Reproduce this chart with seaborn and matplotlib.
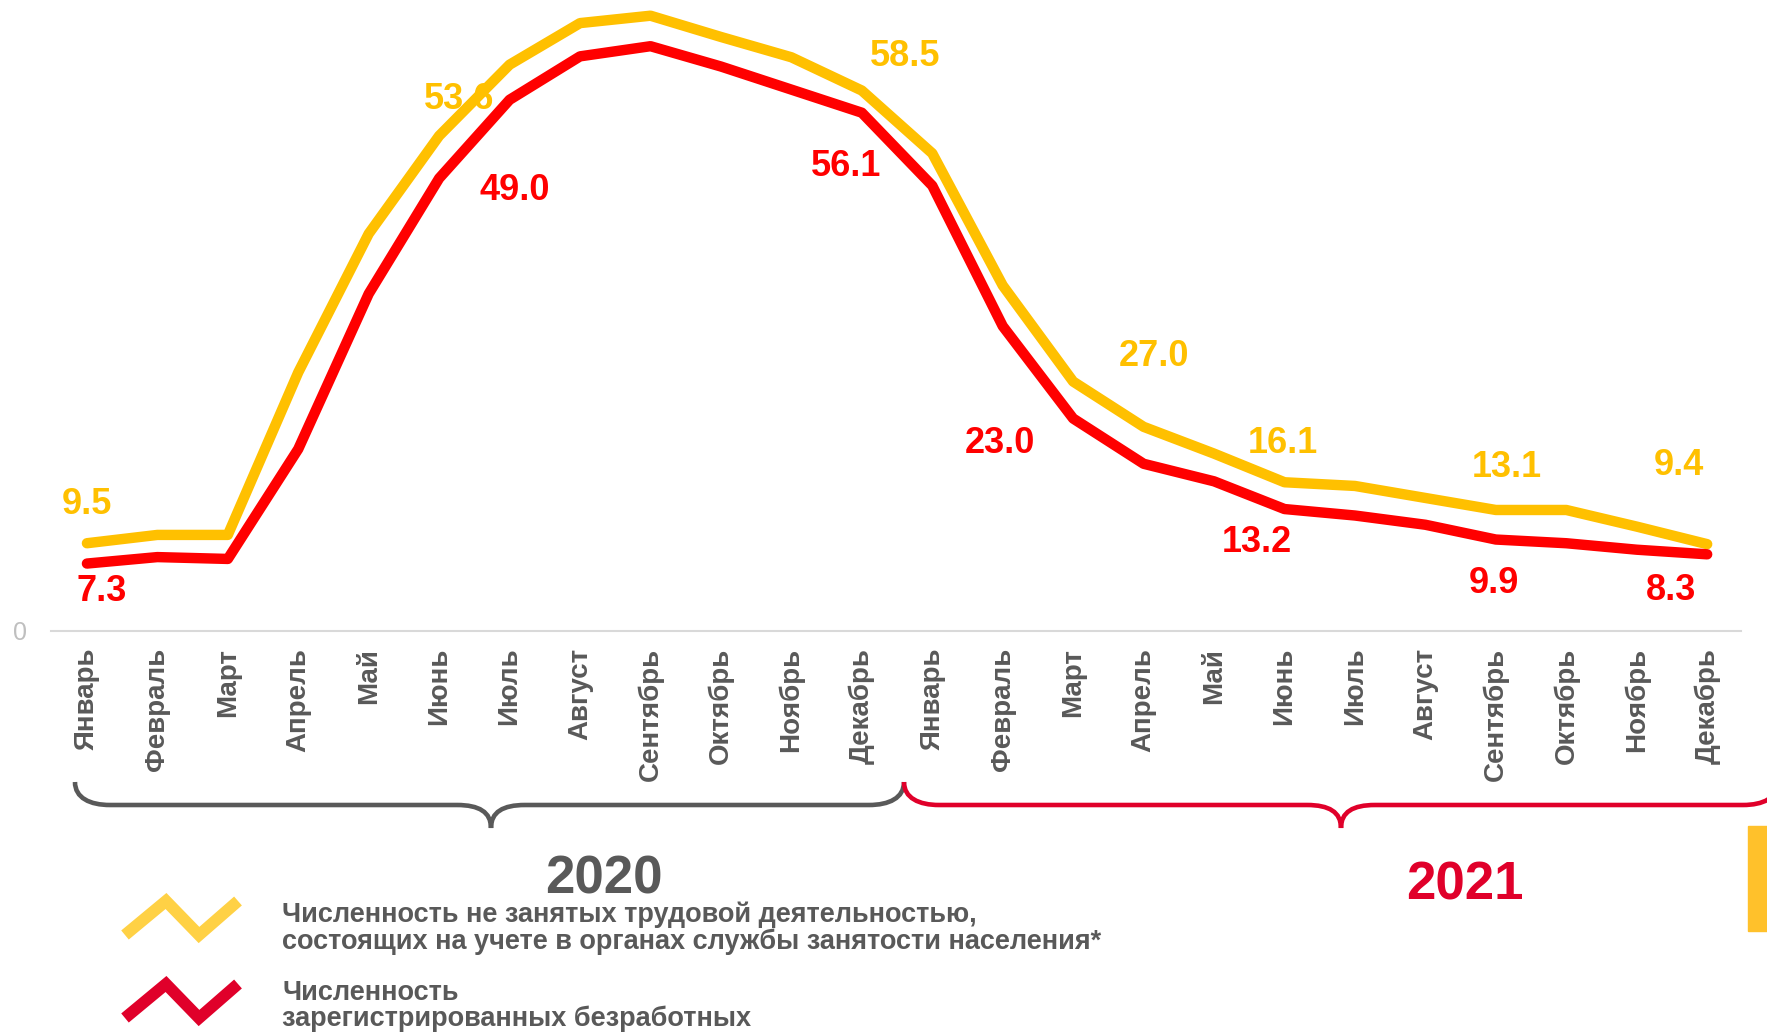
"""Численность безработных 2020-2021 — линейный график"""

import matplotlib
matplotlib.use("Agg")
import matplotlib.pyplot as plt
import matplotlib.patches as mpatches
from matplotlib.path import Path
import pandas as pd
import seaborn as sns

sns.set_style("white")
plt.rcParams["font.family"] = ["Liberation Sans", "DejaVu Sans"]

MONTHS = ["Январь", "Февраль", "Март", "Апрель", "Май", "Июнь",
          "Июль", "Август", "Сентябрь", "Октябрь", "Ноябрь", "Декабрь"]
YEARS = ["2020", "2021"]
SERIES = ["Численность не занятых трудовой деятельностью,\n"
          "состоящих на учете в органах службы занятости населения*",
          "Численность\nзарегистрированных безработных"]

# тыс. человек, январь 2020 - декабрь 2021
not_employed = [9.5, 10.4, 10.4, 28.0, 43.0, 53.6, 61.3, 65.8, 66.6, 64.3, 62.1, 58.5,
                51.7, 37.4, 27.0, 22.1, 19.2, 16.1, 15.7, 14.4, 13.1, 13.1, 11.3, 9.4]
unemployed = [7.3, 8.0, 7.8, 19.7, 36.5, 49.0, 57.5, 62.2, 63.3, 61.1, 58.6, 56.1,
              48.2, 33.0, 23.0, 18.1, 16.2, 13.2, 12.5, 11.5, 9.9, 9.5, 8.8, 8.3]
labelled = [0, 5, 11, 14, 17, 20, 23]

YELLOW, RED, GREY = "#FFC000", "#FF0000", "#595959"
CRIMSON = "#E0002A"

# label offsets in pixels (dx, dy), one per labelled point
yellow_offsets = [(0, 39), (20, 36), (43, 34), (81, 25), (-2, 39), (11, 42), (-28, 79)]
red_offsets = [(15, -28), (76, -12), (-16, -54), (-73, -25), (-28, -33), (-2, -44), (-36, -36)]

months_all = [m for _ in YEARS for m in MONTHS]
df = pd.DataFrame({
    "idx": list(range(len(not_employed))) * 2,
    "value": not_employed + unemployed,
    "series": ["a"] * len(not_employed) + ["b"] * len(unemployed),
})

fig = plt.figure(figsize=(17.67, 10.33), dpi=100)
ax = fig.add_axes([51 / 1767, 1 - 631 / 1033, 1690 / 1767, 631 / 1033])

sns.lineplot(data=df, x="idx", y="value", hue="series", palette=[YELLOW, RED],
             linewidth=7.5, legend=False, ax=ax, solid_capstyle="round")

for i, (dx, dy) in zip(labelled, yellow_offsets):
    ax.annotate(f"{not_employed[i]:.1f}", (i, not_employed[i]), xytext=(dx, dy),
                textcoords="offset pixels", ha="center", va="center",
                fontsize=26, fontweight="bold", color=YELLOW)
for i, (dx, dy) in zip(labelled, red_offsets):
    ax.annotate(f"{unemployed[i]:.1f}", (i, unemployed[i]), xytext=(dx, dy),
                textcoords="offset pixels", ha="center", va="center",
                fontsize=26, fontweight="bold", color=RED)

ax.set_xlim(-0.51, 23.48)
ax.set_ylim(0, 68.3)
ax.set_xticks(range(len(months_all)))
ax.set_xticklabels(months_all, rotation=90, fontsize=20, fontweight="bold", color=GREY)
ax.set_yticks([0])
ax.set_yticklabels(["0"], fontsize=18, color="#BFBFBF")
ax.tick_params(axis="x", length=0, pad=12)
ax.tick_params(axis="y", length=0, pad=17)
ax.set_xlabel("")
ax.set_ylabel("")
for s in ["top", "left", "right"]:
    ax.spines[s].set_visible(False)
ax.spines["bottom"].set_color("#D9D9D9")
ax.spines["bottom"].set_linewidth(1.5)
ax.grid(False)

# overlay in pixel coordinates for braces and legend
ov = fig.add_axes([0, 0, 1, 1], zorder=-1)
ov.set_xlim(0, 1767)
ov.set_ylim(1033, 0)
ov.axis("off")


def brace(x0, x1, xm, color):
    ytop, ymid, ybot = 782, 805, 828
    verts = [(x0, ytop), (x0, 798), (x0 + 15, ymid), (x0 + 35, ymid),
             (xm - 34, ymid),
             (xm - 12, ymid), (xm, 812), (xm, ybot),
             (xm, 812), (xm + 12, ymid), (xm + 34, ymid),
             (x1 - 35, ymid),
             (x1 - 15, ymid), (x1, 798), (x1, ytop)]
    codes = [Path.MOVETO, Path.CURVE4, Path.CURVE4, Path.CURVE4,
             Path.LINETO,
             Path.CURVE4, Path.CURVE4, Path.CURVE4,
             Path.CURVE4, Path.CURVE4, Path.CURVE4,
             Path.LINETO,
             Path.CURVE4, Path.CURVE4, Path.CURVE4]
    ov.add_patch(mpatches.PathPatch(Path(verts, codes), fill=False, edgecolor=color,
                                    linewidth=3.3, capstyle="butt"))


brace(75, 904, 491, GREY)
brace(904, 1778, 1341, CRIMSON)

ov.text(604, 880, YEARS[0], ha="center", va="center", fontsize=38,
        fontweight="bold", color=GREY)
ov.text(1465, 886, YEARS[1], ha="center", va="center", fontsize=38,
        fontweight="bold", color=CRIMSON)

ov.plot([125, 166, 199, 238], [935, 901, 935, 901], color="#FFD145",
        linewidth=8.5, solid_capstyle="butt", solid_joinstyle="miter")
ov.plot([125, 166, 199, 238], [1018, 984, 1018, 984], color=CRIMSON,
        linewidth=8.5, solid_capstyle="butt", solid_joinstyle="miter")
ov.text(282, 902, SERIES[0], ha="left", va="top", fontsize=19.5,
        fontweight="bold", color=GREY, linespacing=0.98)
ov.text(282, 980, SERIES[1], ha="left", va="top", fontsize=19.5,
        fontweight="bold", color=GREY, linespacing=0.98)

ov.add_patch(mpatches.Rectangle((1748, 826), 19, 105, color="#FFC12B"))

fig.savefig("out.png", dpi=100, facecolor="white")
